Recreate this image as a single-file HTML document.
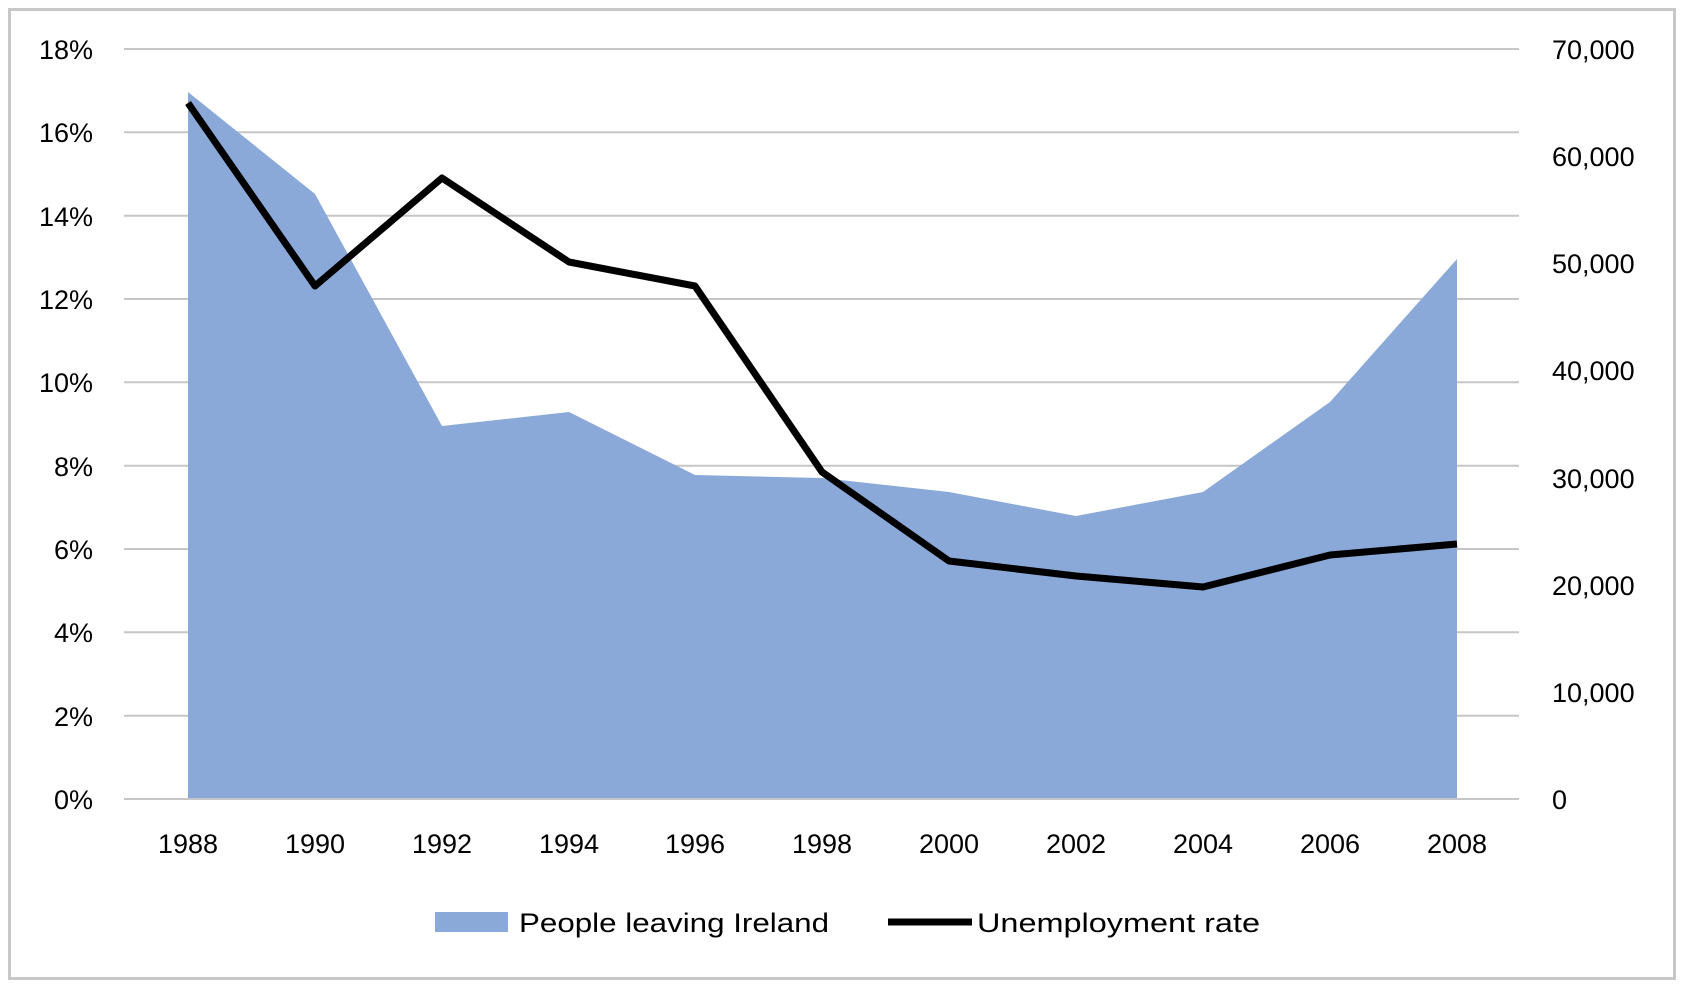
<!DOCTYPE html>
<html><head><meta charset="utf-8"><style>
html,body{margin:0;padding:0;background:#fff;}
svg{display:block;}
text{font-family:"Liberation Sans",sans-serif;font-size:27px;fill:#000;}
</style></head><body>
<svg width="1685" height="991" viewBox="0 0 1685 991" xmlns="http://www.w3.org/2000/svg">
<rect x="9.5" y="9.5" width="1665" height="969" fill="#fff" stroke="#c8c8c8" stroke-width="3"/>
<g stroke="#c6c6c6" stroke-width="2">
<line x1="124" y1="49" x2="1519" y2="49"/>
<line x1="124" y1="132.3" x2="1519" y2="132.3"/>
<line x1="124" y1="215.7" x2="1519" y2="215.7"/>
<line x1="124" y1="299" x2="1519" y2="299"/>
<line x1="124" y1="382.3" x2="1519" y2="382.3"/>
<line x1="124" y1="465.7" x2="1519" y2="465.7"/>
<line x1="124" y1="549" x2="1519" y2="549"/>
<line x1="124" y1="632.3" x2="1519" y2="632.3"/>
<line x1="124" y1="715.7" x2="1519" y2="715.7"/>
</g>
<polygon fill="#8aa9d9" points="188,799 188,92 315,194 442,426 569,412 695,475 822,478 949,492 1076,516 1203,492 1330,402 1457,259 1457,799"/>
<line x1="124" y1="799" x2="1519" y2="799" stroke="#c6c6c6" stroke-width="2"/>
<polyline fill="none" stroke="#000" stroke-width="7" stroke-linejoin="round" points="188,103 315,286 442,178 569,262 695,286 822,472 949,561 1076,576 1203,587 1330,555 1457,544"/>
<g text-anchor="end">
<text x="93" y="59">18%</text><text x="93" y="142">16%</text><text x="93" y="226">14%</text>
<text x="93" y="309">12%</text><text x="93" y="392">10%</text><text x="93" y="476">8%</text>
<text x="93" y="559">6%</text><text x="93" y="642">4%</text><text x="93" y="726">2%</text><text x="93" y="809">0%</text>
</g>
<g>
<text x="1552" y="59">70,000</text><text x="1552" y="166">60,000</text><text x="1552" y="273">50,000</text>
<text x="1552" y="380">40,000</text><text x="1552" y="488">30,000</text><text x="1552" y="595">20,000</text>
<text x="1552" y="702">10,000</text><text x="1552" y="809">0</text>
</g>
<g text-anchor="middle">
<text x="188" y="853">1988</text><text x="315" y="853">1990</text><text x="442" y="853">1992</text>
<text x="569" y="853">1994</text><text x="695" y="853">1996</text><text x="822" y="853">1998</text>
<text x="949" y="853">2000</text><text x="1076" y="853">2002</text><text x="1203" y="853">2004</text>
<text x="1330" y="853">2006</text><text x="1457" y="853">2008</text>
</g>
<rect x="435" y="912" width="73" height="20" fill="#8aa9d9"/>
<text x="519" y="932" textLength="310" lengthAdjust="spacingAndGlyphs">People leaving Ireland</text>
<line x1="888" y1="922" x2="972" y2="922" stroke="#000" stroke-width="7"/>
<text x="977" y="932" textLength="283" lengthAdjust="spacingAndGlyphs">Unemployment rate</text>
</svg>
</body></html>
